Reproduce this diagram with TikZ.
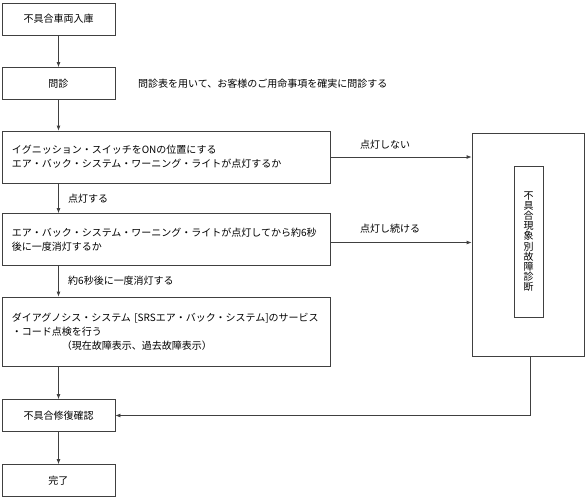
\documentclass[tikz,border=0pt]{standalone}
\usepackage{fontspec}
\setmainfont{Noto Sans CJK JP}
\usepackage{tikz}
\usetikzlibrary{arrows.meta, positioning, calc}
\definecolor{boxline}{RGB}{64,64,64}

\begin{document}
\begin{tikzpicture}[x=1pt, y=-1pt,
    every node/.style={font=\fontsize{10}{14}\selectfont},
    box/.style={draw=boxline, line width=0.8pt, rectangle, minimum height=32pt},
    smallbox/.style={box, minimum width=113pt},
    widebox/.style={box, minimum width=328pt, text width=308pt, inner xsep=10pt, align=left},
    lbl/.style={inner sep=0pt, anchor=west},
    flow/.style={draw=boxline, line width=0.8pt, -{Latex[length=5pt,width=4pt]}}]
    \useasboundingbox (0,0) rectangle (587,499);

    % Main column
    \node[smallbox] (entry) at (58.5,19) {不具合車両入庫};
    \node[smallbox] (interview) at (58.5,83.5) {問診};
    \node[widebox, minimum height=52pt] (ignition) at (166,157)
        {イグニッション・スイッチをONの位置にする\\
         エア・バック・システム・ワーニング・ライトが点灯するか};
    \node[widebox, minimum height=52pt] (warnlamp) at (166,239.5)
        {エア・バック・システム・ワーニング・ライトが点灯してから約6秒\\
         後に一度消灯するか};
    \node[widebox, minimum height=69pt] (selfdiag) at (166,331.5)
        {ダイアグノシス・システム~[SRSエア・バック・システム]のサービス\\
         ・コード点検を行う\\
         \hspace*{50pt}（現在故障表示、過去故障表示）};
    \node[smallbox] (repair) at (58.5,415.5) {不具合修復確認};
    \node[smallbox] (finish) at (58.5,480.5) {完了};

    % Right side
    \node[box, minimum width=112pt, minimum height=223pt] (symptom) at (528,244.5) {};
    \node[box, minimum width=29pt, minimum height=151pt, inner sep=0pt, align=center,
          font=\fontsize{10}{10.2}\selectfont] (symptomtext) at (528.5,241.5)
        {不\\具\\合\\現\\象\\別\\故\\障\\診\\断};

    % Texts beside the flow
    \node[lbl] (interviewnote) at (138,83.5) {問診表を用いて、お客様のご用命事項を確実に問診する};
    \node[lbl] (lampon) at (68,199) {点灯する};
    \node[lbl] (lampoff) at (68,281) {約6秒後に一度消灯する};
    \node[lbl] (lampnot) at (360,145) {点灯しない};
    \node[lbl] (lampstay) at (360,229) {点灯し続ける};

    % Connectors
    \draw[flow] (entry) -- (interview);
    \draw[flow] (interview.south) -- (interview.south |- ignition.north);
    \draw[flow] (ignition.south -| entry.south) -- (warnlamp.north -| entry.south);
    \draw[flow] (warnlamp.south -| entry.south) -- (selfdiag.north -| entry.south);
    \draw[flow] (selfdiag.south -| entry.south) -- (repair.north);
    \draw[flow] (repair) -- (finish);
    \draw[flow] (ignition.east) -- (ignition.east -| symptom.west);
    \draw[flow] ($(warnlamp.east)+(0,3)$) -- ($(warnlamp.east -| symptom.west)+(0,3)$);
    \draw[flow] ($(symptom.south)+(2,0)$) |- (repair.east);
\end{tikzpicture}
\end{document}
